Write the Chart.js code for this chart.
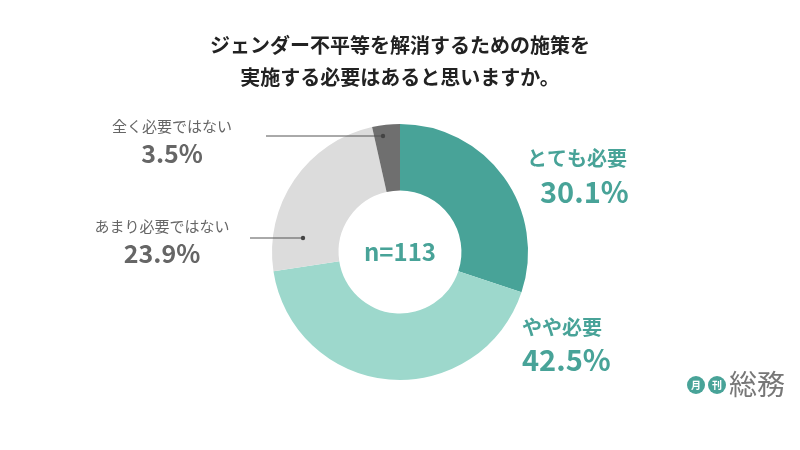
<!DOCTYPE html>
<html><head><meta charset="utf-8">
<script src="https://cdn.jsdelivr.net/npm/chart.js@4/dist/chart.umd.min.js"></script>
<style>html,body{margin:0;background:#fff}#wrap{width:800px;height:450px}</style>
</head><body><div id="wrap"><canvas id="c" width="800" height="450"></canvas></div>
<script>
const FONT = '"Noto Sans CJK JP", "Noto Sans", sans-serif';
const categories = ['とても必要', 'やや必要', 'あまり必要ではない', '全く必要ではない'];
const values = [30.1, 42.5, 23.9, 3.5];
const colors = ['#48a398', '#9dd8cc', '#dcdcdc', '#6f6f6f'];
const titleLines = ['ジェンダー不平等を解消するための施策を', '実施する必要はあると思いますか。'];
const sampleLabel = 'n=113';

// draws the title, slice labels, leader lines and logo
const overlay = {
  id: 'overlay',
  afterDraw(chart) {
    const ctx = chart.ctx;
    ctx.save();
    ctx.textBaseline = 'middle';
    ctx.textAlign = 'center';
    ctx.fillStyle = '#222';
    ctx.font = `bold 20px ${FONT}`;
    ctx.fillText(titleLines[0], 400, 45);
    ctx.fillText(titleLines[1], 400, 77);

    ctx.fillStyle = '#48a398';
    ctx.font = `bold 24px ${FONT}`;
    ctx.fillText(sampleLabel, 400, 252);

    // teal labels on the right
    ctx.textAlign = 'left';
    ctx.fillStyle = '#48a398';
    ctx.font = `bold 20px ${FONT}`;
    ctx.fillText(categories[0], 527, 158);
    ctx.fillText(categories[1], 522, 327);
    ctx.font = `bold 29px ${FONT}`;
    ctx.fillText(values[0].toFixed(1) + '%', 540, 192);
    ctx.fillText(values[1].toFixed(1) + '%', 522, 360);

    // grey labels on the left
    ctx.textAlign = 'center';
    ctx.fillStyle = '#666';
    ctx.font = `15px ${FONT}`;
    ctx.fillText(categories[3], 172, 126);
    ctx.fillText(categories[2], 162, 226);
    ctx.font = `bold 25px ${FONT}`;
    ctx.fillText(values[3].toFixed(1) + '%', 172, 153);
    ctx.fillText(values[2].toFixed(1) + '%', 162, 253);

    ctx.strokeStyle = '#555';
    ctx.lineWidth = 1;
    ctx.fillStyle = '#444';
    [[266, 383, 136], [250, 303, 238]].forEach(([x1, x2, y]) => {
      ctx.beginPath(); ctx.moveTo(x1, y); ctx.lineTo(x2, y); ctx.stroke();
      ctx.beginPath(); ctx.arc(x2, y, 2.2, 0, Math.PI * 2); ctx.fill();
    });

    // logo
    ctx.fillStyle = '#48a398';
    [[696, 385], [717, 385]].forEach(([x, y]) => {
      ctx.beginPath(); ctx.arc(x, y, 9, 0, Math.PI * 2); ctx.fill();
    });
    ctx.fillStyle = '#fff';
    ctx.font = `bold 10px ${FONT}`;
    ctx.textAlign = 'center';
    ctx.fillText('月', 696, 385);
    ctx.fillText('刊', 717, 385);
    ctx.fillStyle = '#777';
    ctx.font = `28px ${FONT}`;
    ctx.textAlign = 'left';
    ctx.fillText('総務', 729, 384);
    ctx.restore();
  }
};

new Chart(document.getElementById('c'), {
  type: 'doughnut',
  data: {
    labels: categories,
    datasets: [{ data: values, backgroundColor: colors, borderWidth: 0 }]
  },
  options: {
    responsive: false,
    animation: false,
    cutout: '48%',
    layout: { padding: { top: 124, bottom: 70, left: 100, right: 100 } },
    plugins: { legend: { display: false }, tooltip: { enabled: false } }
  },
  plugins: [overlay]
});
</script>
</body></html>
